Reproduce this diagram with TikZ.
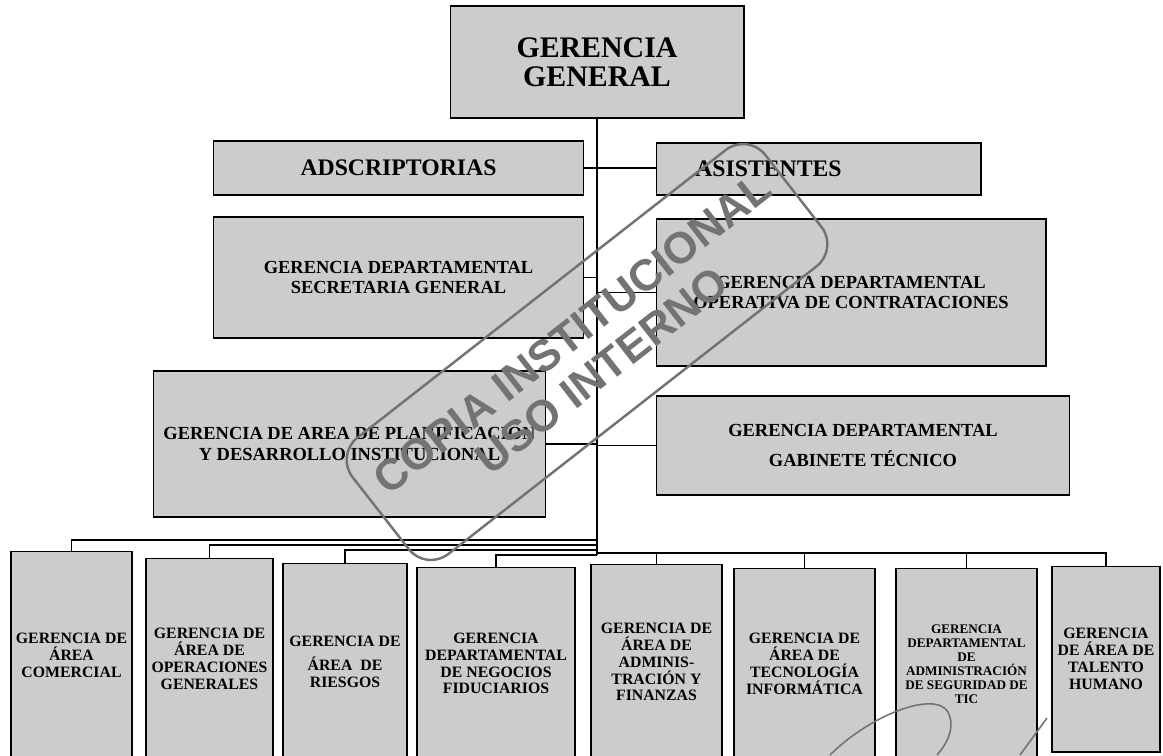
\documentclass[tikz,border=0pt]{standalone}
\usepackage{fontspec}
\setmainfont{Liberation Serif}
\newfontfamily\sellofont{Liberation Sans}
\definecolor{cajagris}{gray}{0.8}
\definecolor{sellogris}{gray}{0.45}
\tikzset{
  caja/.style={draw, line width=0.6pt, fill=cajagris, inner sep=0pt, outer sep=0pt, align=center},
  chica/.style={caja, font=\fontsize{9}{9.6}\selectfont\bfseries},
  media/.style={caja, font=\fontsize{10.5}{11.6}\selectfont\bfseries},
  unir/.style={line width=0.7pt},
  sello/.style={draw=sellogris, text=sellogris, line width=1.4pt, rounded corners=16pt, align=center,
    minimum width=298pt, minimum height=84pt, inner sep=0pt, font=\sellofont\bfseries\fontsize{25}{27}\selectfont},
}
\begin{document}
\begin{tikzpicture}[x=0.02cm,y=-0.02cm]
  \useasboundingbox (0,0) rectangle (1163,755);
  % cabeza
  \node[caja, minimum width=5.88cm, minimum height=2.24cm, font=\fontsize{17}{16.5}\selectfont\bfseries] (gg) at (597,62) {GERENCIA\\GENERAL};
  \node[caja, minimum width=7.42cm, minimum height=1.08cm, font=\fontsize{13.5}{14}\selectfont\bfseries] (adsc) at (398.5,168) {ADSCRIPTORIAS};
  \node[caja, minimum width=6.5cm, minimum height=1.04cm, font=\fontsize{13.5}{14}\selectfont\bfseries] (asis) at (818.5,169) {ASISTENTES\hspace*{2cm}};
  % staff
  \node[media, minimum width=7.42cm, minimum height=2.42cm] (secg) at (398.5,277.5) {GERENCIA DEPARTAMENTAL\\SECRETARIA GENERAL};
  \node[media, minimum width=7.8cm, minimum height=2.94cm] (oper) at (851,292.5) {GERENCIA DEPARTAMENTAL\\OPERATIVA DE CONTRATACIONES};
  \node[media, minimum width=7.86cm, minimum height=2.92cm] (plan) at (349.5,444) {GERENCIA DE AREA DE PLANIFICACION\\Y DESARROLLO INSTITUCIONAL};
  \node[media, minimum width=8.28cm, minimum height=1.98cm] (gabt) at (863,445.5) {GERENCIA DEPARTAMENTAL\\[5pt]GABINETE TÉCNICO};
  % gerencias de linea
  \node[chica, minimum width=2.42cm, minimum height=4.18cm] (comer) at (71.5,655.5) {GERENCIA DE\\ÁREA\\COMERCIAL};
  \node[chica, minimum width=2.54cm, minimum height=4.04cm] (opera) at (209.5,659) {GERENCIA DE\\ÁREA DE\\OPERACIONES\\GENERALES};
  \node[chica, minimum width=2.48cm, minimum height=3.94cm] (riesg) at (345,661.5) {GERENCIA DE\\[4pt]ÁREA\ \ DE\\RIESGOS};
  \node[chica, minimum width=3.16cm, minimum height=3.86cm] (fiduc) at (496,663.5) {GERENCIA\\DEPARTAMENTAL\\DE NEGOCIOS\\FIDUCIARIOS};
  \node[chica, minimum width=2.62cm, minimum height=3.92cm] (admfin) at (656.5,662) {GERENCIA DE\\ÁREA DE\\ADMINIS-\\TRACIÓN Y\\FINANZAS};
  \node[chica, minimum width=2.82cm, minimum height=3.84cm] (tecinf) at (804.5,664) {GERENCIA DE\\ÁREA DE\\TECNOLOGÍA\\INFORMÁTICA};
  \node[chica, minimum width=2.82cm, minimum height=3.84cm, font=\fontsize{7.5}{7.9}\selectfont\bfseries] (segtic) at (966.5,664) {GERENCIA\\DEPARTAMENTAL\\DE\\ADMINISTRACIÓN\\DE SEGURIDAD DE\\TIC};
  \node[chica, minimum width=2.16cm, minimum height=3.72cm] (talhum) at (1106,659) {GERENCIA\\DE ÁREA DE\\TALENTO\\HUMANO};
  % tronco
  \coordinate (tA) at (597,540);
  \coordinate (tB) at (597,545);
  \coordinate (tC) at (597,550);
  \coordinate (tD) at (597,555);
  \coordinate (tE) at (597,553);
  \draw[unir] (gg.south) -- (tD);
  \draw[unir] (adsc.east) -- (asis.west |- adsc.east);
  \draw[unir] (secg.east) -- (secg.east -| gg.south);
  \draw[unir] (oper.west) -- (oper.west -| gg.south);
  \draw[unir] (plan.east) -- (plan.east -| gg.south);
  \draw[unir] (gabt.west) -- (gabt.west -| gg.south);
  \draw[unir] (tA) -| (comer.north);
  \draw[unir] (tB) -| (opera.north);
  \draw[unir] (tC) -| (riesg.north);
  \draw[unir] (tD) -| (fiduc.north);
  \draw[unir] (tE) -| (talhum.north);
  \draw[unir] (admfin.north) -- (admfin.north |- tE);
  \draw[unir] (tecinf.north) -- (tecinf.north |- tE);
  \draw[unir] (segtic.north) -- (segtic.north |- tE);
  % sello y firma
  \node[sello, rotate=38] (sello) at (587,352) {COPIA INSTITUCIONAL\\USO INTERNO};
  \draw[sellogris, line width=0.9pt] (830,755) .. controls (870,715) and (935,690) .. (948,712) .. controls (956,728) and (946,745) .. (937,755);
  \draw[sellogris, line width=0.9pt] (1020,755) -- (1047,718);
\end{tikzpicture}
\end{document}
